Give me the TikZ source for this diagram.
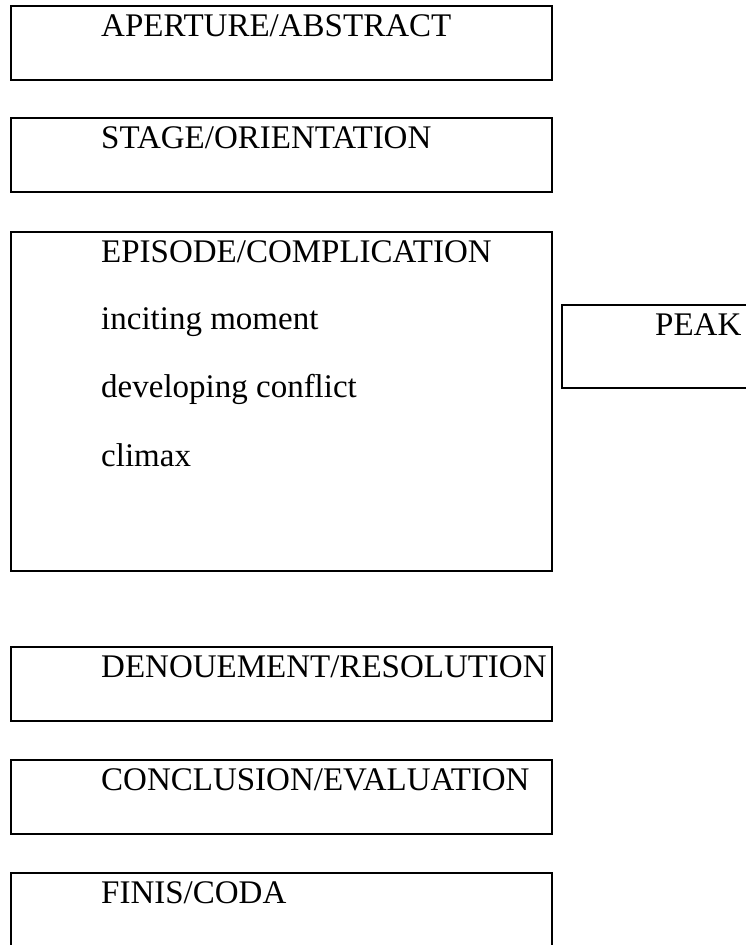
\documentclass[tikz,border=0pt]{standalone}
\usepackage{fontspec}
\setmainfont{Liberation Serif}
\begin{document}
\begin{tikzpicture}[x=1pt,y=-1pt,
  stagebox/.style={draw=black, line width=2.6pt, rectangle, anchor=north west,
    inner sep=0pt, outer sep=0pt},
  label/.style={anchor=base west, inner sep=0pt, font=\fontsize{33}{40}\selectfont}]
  \clip (0,0) rectangle (746,945);
  % stacked stage boxes
  \node[stagebox, minimum width=541pt, minimum height=74pt]  (ap) at (11,6)   {};
  \node[stagebox, minimum width=541pt, minimum height=74pt]  (st) at (11,118) {};
  \node[stagebox, minimum width=541pt, minimum height=339pt] (ep) at (11,232) {};
  \node[stagebox, minimum width=541pt, minimum height=74pt]  (de) at (11,647) {};
  \node[stagebox, minimum width=541pt, minimum height=74pt]  (co) at (11,760) {};
  \node[stagebox, minimum width=541pt, minimum height=120pt] (fi) at (11,873) {};
  % side box
  \node[stagebox, minimum width=220pt, minimum height=83pt]  (pk) at (562,305) {};
  % labels
  \node[label] (tap) at (101,36)  {APERTURE/ABSTRACT};
  \node[label] (tst) at (101,148) {STAGE/ORIENTATION};
  \node[label] (tep) at (101,262) {EPISODE/COMPLICATION};
  \node[label] (tin) at (101,329) {inciting moment};
  \node[label] (tdc) at (101,397) {developing conflict};
  \node[label] (tcl) at (101,466) {climax};
  \node[label] (tde) at (101,677) {DENOUEMENT/RESOLUTION};
  \node[label] (tco) at (101,790) {CONCLUSION/EVALUATION};
  \node[label] (tfi) at (101,903) {FINIS/CODA};
  \node[label] (tpk) at (655,335) {PEAK};
\end{tikzpicture}
\end{document}
